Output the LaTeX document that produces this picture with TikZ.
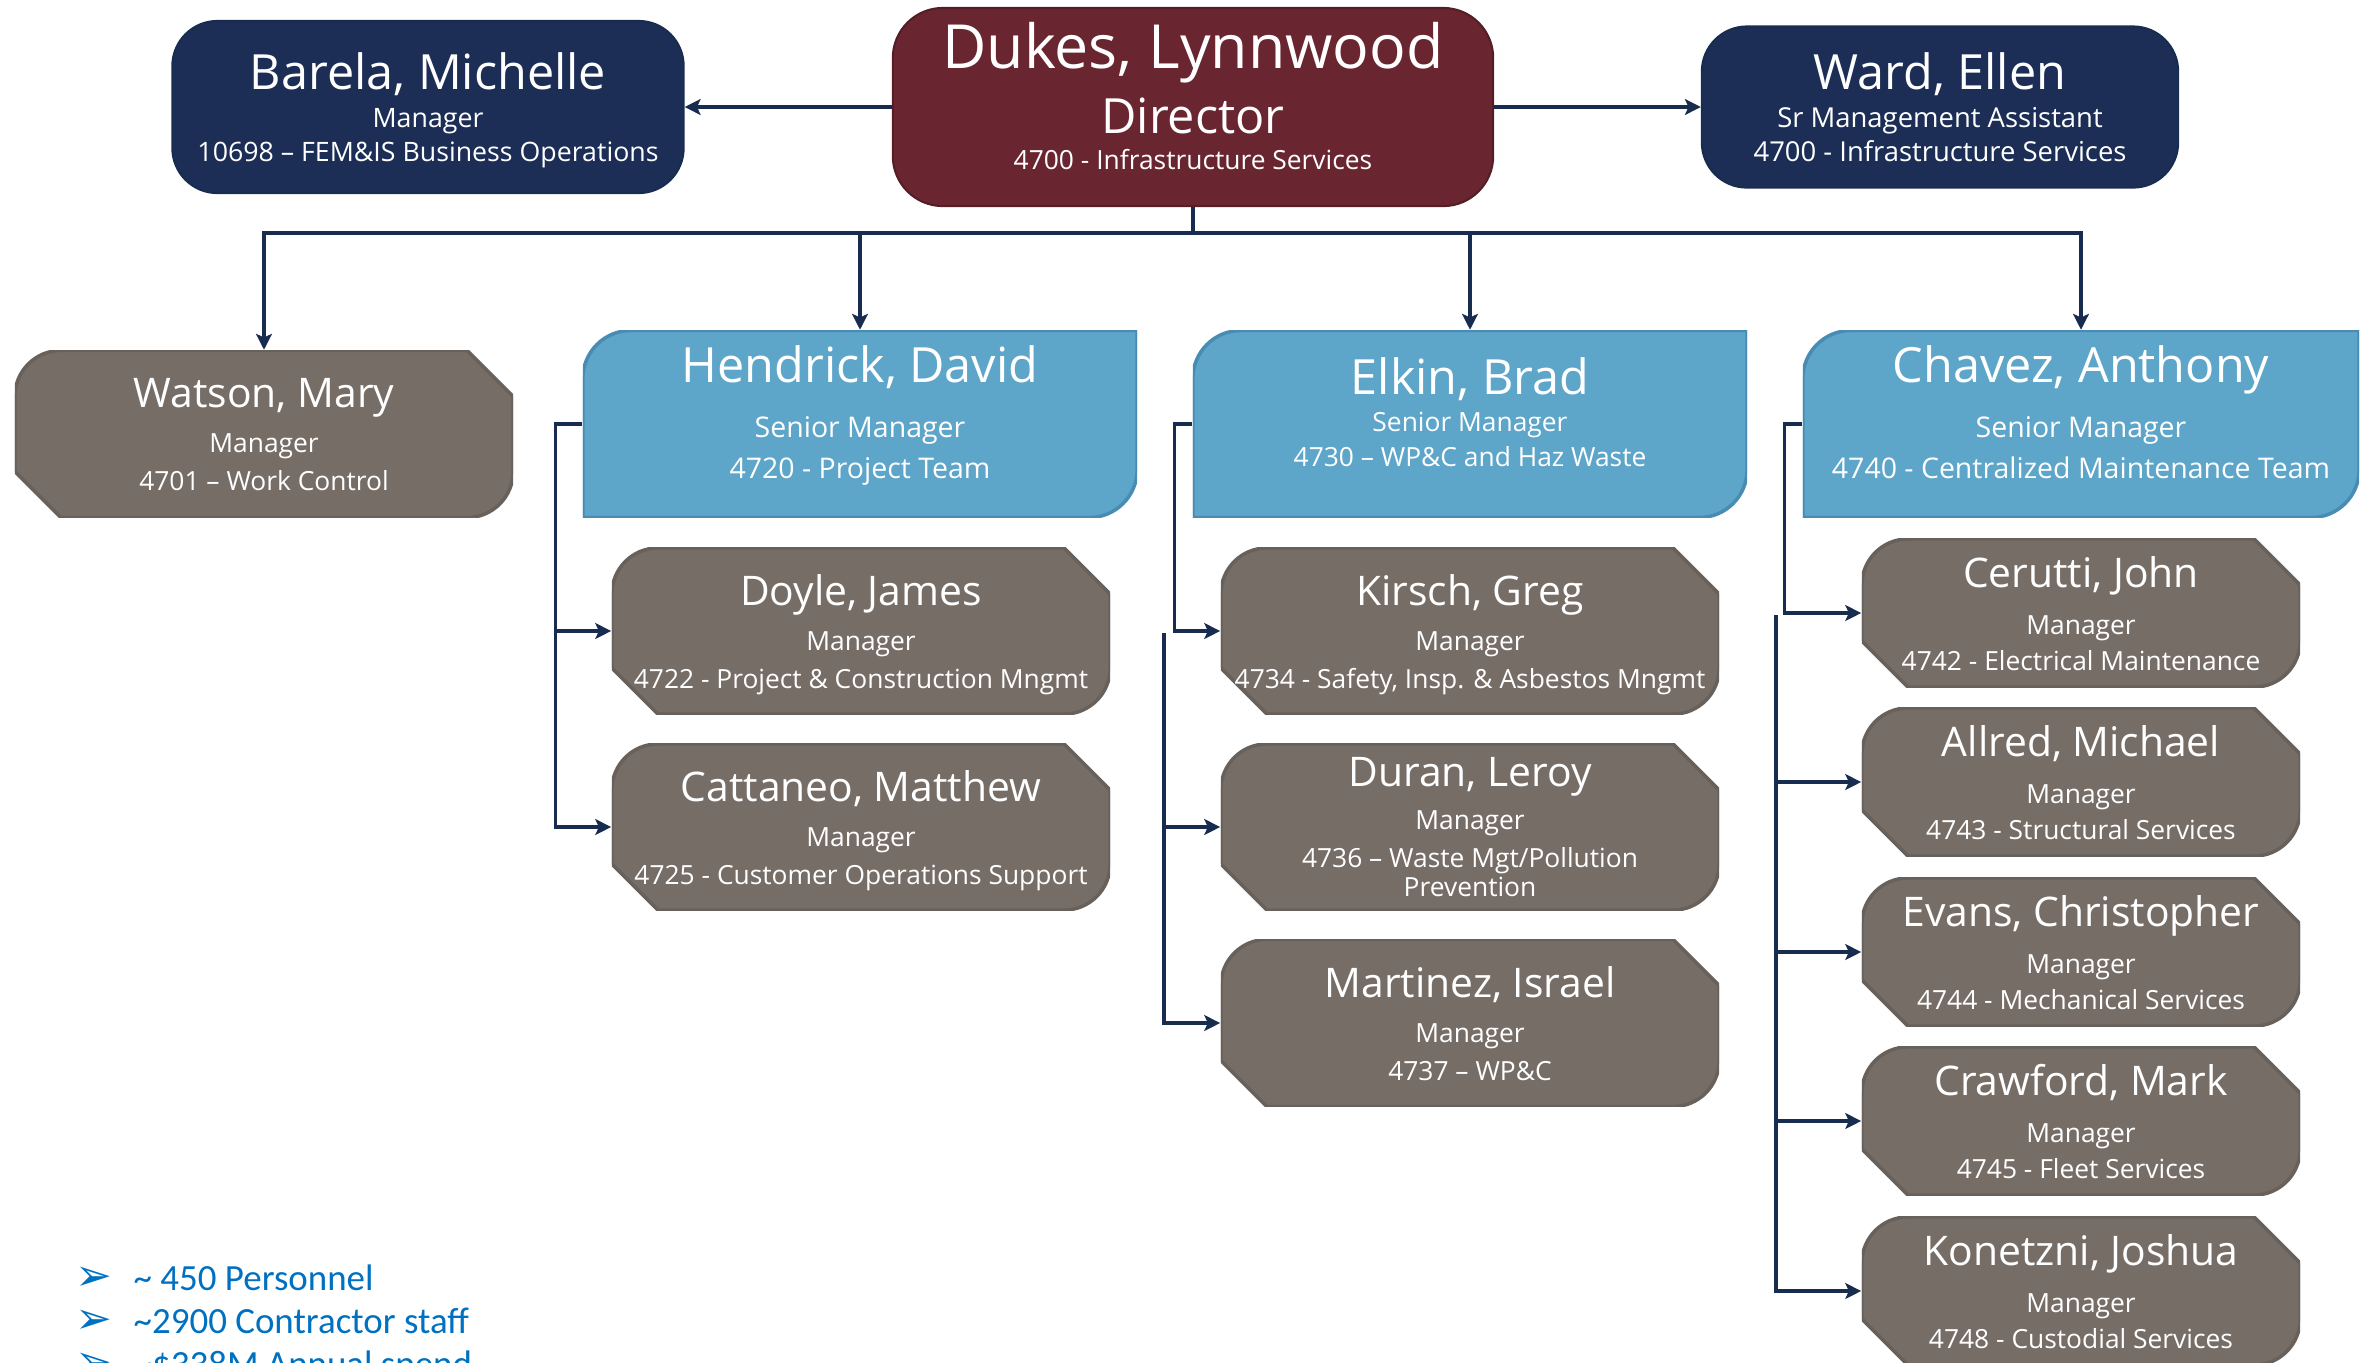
\documentclass[tikz,border=0pt]{standalone}
\usepackage{fontspec}
\setmainfont{Open Sans}
\newfontfamily\factfont{Carlito}
\newfontfamily\dingfont{DejaVu Sans}
\usetikzlibrary{arrows.meta}
\setlength{\lineskiplimit}{-50pt}

\definecolor{navyfill}{RGB}{28,46,86}
\definecolor{maroonfill}{RGB}{106,38,48}
\definecolor{skyfill}{RGB}{93,165,201}
\definecolor{skyedge}{RGB}{72,140,180}
\definecolor{taupefill}{RGB}{118,109,103}
\definecolor{taupeedge}{RGB}{104,96,90}
\definecolor{linknavy}{RGB}{24,44,80}
\definecolor{factblue}{RGB}{0,112,192}

\newcommand{\pb}{path picture bounding box}
\newcommand{\nm}[2]{{\fontsize{#1}{#1}\selectfont #2}}
\newcommand{\pointer}{\makebox[0.58cm][l]{\dingfont\fontsize{12.5}{12.5}\selectfont ➢}}

\tikzset{
  person/.style={text=white, align=center, inner sep=0pt},
  topbox/.style={person, rounded corners=0.45cm, fill=navyfill, draw=linknavy, line width=0.6pt,
    font=\fontsize{7.6}{9.7}\selectfont},
  dirbox/.style={topbox, fill=maroonfill, draw=maroonfill!80!black, rounded corners=0.5cm,
    minimum width=6cm, minimum height=1.98cm, text depth=6.5pt, font=\fontsize{7.5}{10.2}\selectfont},
  leadbox/.style={person, fill=white, minimum width=5.54cm, minimum height=1.87cm, text depth=6.7pt,
    font=\fontsize{8.1}{11.7}\selectfont,
    path picture={\filldraw[skyfill, draw=skyedge, line width=1pt]
      (\pb.west) [rounded corners=0.48cm] |- (\pb.north) [sharp corners] -| (\pb.east)
      [rounded corners=0.48cm] |- (\pb.south) [sharp corners] -- (\pb.south west) -- cycle;}},
  mgrbox/.style={person, fill=white, minimum width=4.98cm, minimum height=1.66cm, text depth=0pt,
    font=\fontsize{7.5}{10.8}\selectfont,
    path picture={\filldraw[taupefill, draw=taupeedge, line width=1pt]
      (\pb.west) [rounded corners=0.46cm] |- (\pb.north) [sharp corners]
      -- ([xshift=-0.46cm]\pb.north east) -- ([yshift=-0.46cm]\pb.north east) -- (\pb.east)
      [rounded corners=0.46cm] |- (\pb.south) [sharp corners]
      -- ([xshift=0.46cm]\pb.south west) -- ([yshift=0.46cm]\pb.south west) -- cycle;}},
  mgrsmall/.style={mgrbox, minimum width=4.38cm, minimum height=1.48cm,
    font=\fontsize{7.5}{10.2}\selectfont},
  link/.style={draw=linknavy, line width=0.9pt},
  arr/.style={link, -{Stealth[length=4.5pt, width=4.5pt, inset=1pt]}},
  fact/.style={anchor=base west, inner sep=0pt, text=factblue, font=\factfont\fontsize{10.5}{12}\selectfont}
}

\begin{document}
\begin{tikzpicture}[x=0.01cm, y=-0.01cm]
  \useasboundingbox (0,0) rectangle (2362,1362);

  % director and staff
  \node[topbox, minimum width=5.11cm, minimum height=1.72cm, text depth=0pt] (barela) at (428,107)
    {\nm{13.8}{Barela, Michelle}\\[1.1pt] Manager\\ 10698 – FEM\&IS Business Operations};
  \node[dirbox] (dukes) at (1193,107)
    {\nm{17.3}{Dukes, Lynnwood}\\[8.3pt] \nm{13.8}{Director}\\ 4700 - Infrastructure Services};
  \node[topbox, minimum width=4.76cm, minimum height=1.61cm, font=\fontsize{7.8}{9.7}\selectfont] (ward) at (1940,107)
    {\nm{13.8}{Ward, Ellen}\\[1.1pt] Sr Management Assistant\\ 4700 - Infrastructure Services};

  % senior managers
  \node[mgrbox, minimum height=1.67cm] (watson) at (264,434)
    {\nm{11.6}{Watson, Mary}\\[2pt] Manager\\ 4701 – Work Control};
  \node[leadbox] (hendrick) at (860,424)
    {\nm{13.8}{Hendrick, David}\\[3.9pt] Senior Manager\\ 4720 - Project Team};
  \node[leadbox, font=\fontsize{7.5}{10}\selectfont] (elkin) at (1470,424)
    {\nm{13.8}{Elkin, Brad}\\[0.5pt] Senior Manager\\ 4730 – WP\&C and Haz Waste};
  \node[leadbox, minimum width=5.56cm] (chavez) at (2081,424)
    {\nm{13.8}{Chavez, Anthony}\\[3.9pt] Senior Manager\\ 4740 - Centralized Maintenance Team};

  % project team
  \node[mgrbox] (doyle) at (861,631)
    {\nm{11.6}{Doyle, James}\\[2pt] Manager\\ 4722 - Project \& Construction Mngmt};
  \node[mgrbox] (cattaneo) at (861,827)
    {\nm{11.6}{Cattaneo, Matthew}\\[2pt] Manager\\ 4725 - Customer Operations Support};

  % wp&c and haz waste
  \node[mgrbox] (kirsch) at (1470,631)
    {\nm{11.6}{Kirsch, Greg}\\[2pt] Manager\\ 4734 - Safety, Insp. \& Asbestos Mngmt};
  \node[mgrbox] (duran) at (1470,827)
    {\nm{11.6}{Duran, Leroy}\\[1.4pt] Manager\\ 4736 – Waste Mgt/Pollution\\[-2.3pt] Prevention};
  \node[mgrbox, minimum height=1.67cm] (martinez) at (1470,1023)
    {\nm{11.6}{Martinez, Israel}\\[2pt] Manager\\ 4737 – WP\&C};

  % maintenance team
  \node[mgrsmall] (cerutti) at (2081,613)
    {\nm{11.6}{Cerutti, John}\\[3.2pt] Manager\\ 4742 - Electrical Maintenance};
  \node[mgrsmall] (allred) at (2081,782)
    {\nm{11.6}{Allred, Michael}\\[3.2pt] Manager\\ 4743 - Structural Services};
  \node[mgrsmall] (evans) at (2081,952)
    {\nm{11.6}{Evans, Christopher}\\[3.2pt] Manager\\ 4744 - Mechanical Services};
  \node[mgrsmall] (crawford) at (2081,1121)
    {\nm{11.6}{Crawford, Mark}\\[3.2pt] Manager\\ 4745 - Fleet Services};
  \node[mgrsmall] (konetzni) at (2081,1291)
    {\nm{11.6}{Konetzni, Joshua}\\[3.2pt] Manager\\ 4748 - Custodial Services};

  % links
  \draw[arr] (dukes.west) -- (barela.east);
  \draw[arr] (dukes.east) -- (ward.west);
  \coordinate (bus) at (1193,233);
  \draw[link] (dukes.south) -- (bus);
  \foreach \n in {watson,hendrick,elkin,chavez}
    \draw[arr] (bus) -| (\n.north);

  \draw[arr] (hendrick.west) -- ++(-27,0) |- (doyle.west);
  \draw[arr] (hendrick.west) -- ++(-27,0) |- (cattaneo.west);

  \draw[arr] (elkin.west) -- ++(-18,0) |- (kirsch.west);
  \coordinate (elkin-trunk) at (1164,633);
  \draw[arr] (elkin-trunk) |- (duran.west);
  \draw[arr] (elkin-trunk) |- (martinez.west);

  \draw[arr] (chavez.west) -- ++(-18,0) |- (cerutti.west);
  \coordinate (chavez-trunk) at (1776,615);
  \foreach \n in {allred,evans,crawford,konetzni}
    \draw[arr] (chavez-trunk) |- (\n.west);

  % key figures
  \node[fact] (fact1) at (75,1290) {\pointer\textasciitilde{} 450 Personnel};
  \node[fact] (fact2) at (75,1333) {\pointer\textasciitilde2900 Contractor staff};
  \node[fact] (fact3) at (75,1376) {\pointer\textasciitilde\$338M Annual spend};
\end{tikzpicture}
\end{document}
